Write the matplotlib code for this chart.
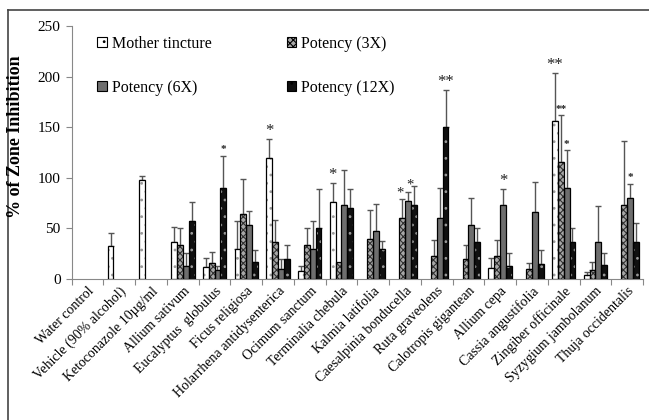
import matplotlib
matplotlib.use("Agg")
import matplotlib.pyplot as plt
import numpy as np
from matplotlib.patches import Rectangle
from matplotlib.lines import Line2D

plt.rcParams['font.family'] = ['Liberation Serif', 'DejaVu Serif']
plt.rcParams['hatch.linewidth'] = 0.8

categories = ["Water control", "Vehicle (90% alcohol)", "Ketoconazole 10\u00b5g/ml",
              "Allium sativum", "Eucalyptus  globulus", "Ficus religiosa",
              "Holarrhena antidysenterica", "Ocimum sanctum", "Terminalia chebula",
              "Kalmia latifolia", "Caesalpinia bonducella", "Ruta graveolens",
              "Calotropis gigantean", "Allium cepa", "Cassia angustifolia",
              "Zingiber officinale", "Syzygium jambolanum", "Thuja occidentalis"]

series_names = ["Mother tincture", "Potency (3X)", "Potency (6X)", "Potency (12X)"]

mother = [0, 33, 98, 37, 12, 30, 120, 7.5, 76, 0, 0, 0, 0, 11, 0, 156, 4, 0]
mother_err = [0, 12, 4, 14, 9, 27, 18, 5.5, 19, 0, 0, 0, 0, 10, 0, 48, 3, 0]
p3x = [0, 0, 0, 34, 15.5, 64, 37, 34, 16.5, 40, 60, 23, 20, 23, 9.5, 116, 8.5, 73]
p3x_err = [0, 0, 0, 16, 11.5, 35, 21, 16, 0, 28, 19, 15.5, 13.5, 16, 6.5, 46, 8, 63]
p6x = [0, 0, 0, 13, 8.5, 53, 9.5, 30, 73, 47, 77, 60, 53, 73, 66.5, 89.5, 37, 80]
p6x_err = [0, 0, 0, 12.5, 4.5, 14.5, 10, 27, 35, 27, 9, 30, 27, 15.5, 29, 38, 35.5, 14]
p12x = [0, 0, 0, 57, 89.5, 17, 20, 50, 70, 30, 73.5, 150, 37, 13, 14.5, 37, 14, 37]
p12x_err = [0, 0, 0, 19, 32.5, 12, 13.5, 39, 19, 8, 18.5, 37, 13, 12.5, 14, 13, 11.5, 18]

# significance marks: (category index, series index, text, size)
star_cat = [4, 6, 8, 10, 10, 11, 13, 15, 15, 15, 17]
star_ser = [3, 0, 0, 1, 2, 3, 2, 0, 1, 2, 2]
star_txt = ["*", "*", "*", "*", "*", "**", "*", "**", "**", "*", "*"]
star_big = [False, True, True, True, True, True, True, True, False, False, False]
star_dx = [0, 0, 0, -1.5, 1.5, 0, 0, 0, 0, 0, 0]

values = [mother, p3x, p6x, p12x]
errors = [mother_err, p3x_err, p6x_err, p12x_err]

faces = ["white", "#a8a8a8", "#6e6e6e", "#101010"]
hatchcol = ["#9a9a9a", "#303030", "#6e6e6e", "#9a9a9a"]
hatches = ["..", "xxxxx", None, ".."]

fig = plt.figure(figsize=(6.49, 4.20), dpi=100)
ax = fig.add_axes([71.7/649, 1-279/420, (643-71.7)/649, (279-26)/420])

n = len(categories)
x = np.arange(n)
w = 0.185
offsets = [-1.5*w, -0.5*w, 0.5*w, 1.5*w]

for s in range(4):
    vals = np.array(values[s], dtype=float)
    errs = np.array(errors[s], dtype=float)
    mask = vals > 0
    xs = x[mask] + offsets[s]
    ax.bar(xs, vals[mask], width=w, color=faces[s], edgecolor=hatchcol[s],
           hatch=hatches[s], linewidth=0, zorder=2)
    ax.bar(xs, vals[mask], width=w, fill=False, edgecolor="black",
           linewidth=0.9, zorder=3)
    em = mask & (errs > 0)
    ax.errorbar(x[em] + offsets[s], vals[em], yerr=[np.zeros(em.sum()), errs[em]],
                fmt='none', ecolor="#555555", elinewidth=1.0, capsize=2.3,
                capthick=1.0, zorder=1)

for c, s, t, big, dx in zip(star_cat, star_ser, star_txt, star_big, star_dx):
    top = values[s][c] + errors[s][c]
    ax.annotate(t, (c + offsets[s], top), xytext=(dx, 0 if big else 1),
                textcoords='offset points', ha='center', va='bottom',
                fontsize=(12 if dx == 0 else 10.5) if big else 8, color='#222222',
                fontweight='normal' if big else 'bold')

ax.set_xlim(-0.5, n - 0.5)
ax.set_ylim(0, 250)
ax.set_yticks([0, 50, 100, 150, 200, 250])
ax.tick_params(axis='y', labelsize=11, length=4, color="#888888", width=0.8, pad=4)
ax.set_xticks(np.arange(-0.5, n, 1.0), minor=False)
ax.set_xticklabels([])
ax.tick_params(axis='x', length=4, color="#888888", width=0.8)
for i, lab in enumerate(categories):
    ax.text(i + 0.15, -10, lab, rotation=45, rotation_mode='anchor', ha='right',
            va='center', fontsize=10, transform=ax.transData, clip_on=False)

for sp in ['top', 'right']:
    ax.spines[sp].set_visible(False)
for sp in ['left', 'bottom']:
    ax.spines[sp].set_color("#888888")
    ax.spines[sp].set_linewidth(0.8)

fig.text(16/649, 1-137/420, "% of Zone Inhibition", rotation=90, ha='center',
         va='center', fontsize=13, fontweight='bold')

# legend
handles = []
for s in range(4):
    handles.append(Rectangle((0, 0), 1, 1, facecolor=faces[s], edgecolor="black",
                             hatch=hatches[s], linewidth=0.8))
order = [0, 2, 1, 3]
leg = ax.legend([handles[i] for i in order], [series_names[i] for i in order],
                ncol=2, loc='upper left', bbox_to_anchor=(0.045, 0.962),
                frameon=False, fontsize=11.5, handlelength=0.6, handleheight=0.6,
                handletextpad=0.3, labelspacing=1.75, columnspacing=4.7,
                borderpad=0, borderaxespad=0)

# outer frame
fig.add_artist(Line2D([8/649, 8/649], [0, 1-10/420], transform=fig.transFigure,
                      color="#444444", linewidth=1.2))
fig.add_artist(Line2D([8/649, 1], [1-10/420, 1-10/420], transform=fig.transFigure,
                      color="#444444", linewidth=1.2))

fig.savefig("out.png", dpi=100)
